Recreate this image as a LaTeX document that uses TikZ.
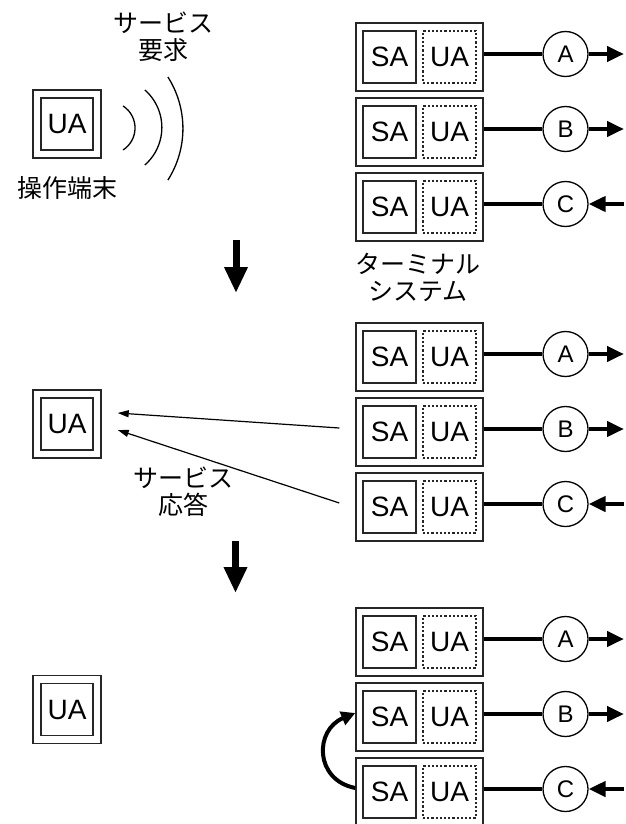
\documentclass[tikz,border=0pt]{standalone}
\usepackage{fontspec}
\setmainfont{Liberation Sans}
\newfontfamily\jp{Noto Sans CJK JP}
\usetikzlibrary{arrows.meta}
\begin{document}
\begin{tikzpicture}[x=1pt,y=-1pt,
  outerbox/.style={draw=black!85, line width=1.4pt, inner sep=0pt, minimum width=127pt, minimum height=68pt},
  sabox/.style={draw=black!85, line width=1.4pt, inner sep=0pt, minimum width=53pt, minimum height=52pt, font=\fontsize{28}{28}\selectfont},
  uabox/.style={draw=black!85, line width=1.2pt, dash pattern=on 2.2pt off 2pt, inner sep=0pt, minimum width=53pt, minimum height=52pt, font=\fontsize{28}{28}\selectfont},
  termouter/.style={draw=black!85, line width=1.4pt, inner sep=0pt, minimum size=68pt},
  terminner/.style={draw=black!85, line width=1.4pt, inner sep=0pt, minimum size=52pt, font=\fontsize{28}{28}\selectfont},
  circ/.style={circle, draw, line width=1.3pt, minimum size=45pt, inner sep=0pt, font=\fontsize{24}{24}\selectfont},
  link/.style={line width=4.5pt},
  linkarrow/.style={line width=4.5pt, -{Triangle[length=17pt,width=15pt]}},
  jlabel/.style={font=\jp\fontsize{25}{27}\selectfont, align=center, inner sep=0pt},
  bigdown/.style={line width=7pt, -{Triangle[length=26pt,width=22pt]}},
  thinarrow/.style={line width=1.2pt, -{Triangle[length=11pt,width=7pt]}},
  wave/.style={line width=1.3pt},
  swap/.style={line width=4pt, -{Triangle[length=14pt,width=14pt]}}
]
\useasboundingbox (0,0) rectangle (625,824);

% terminal systems
\foreach \g/\t in {1/23, 2/323, 3/608}{
  \foreach \i/\l/\d in {0/A/1, 1/B/1, 2/C/0}{
    \pgfmathsetmacro{\top}{\t+75*\i}
    \node[outerbox] (b\g\l) at (419.5, \top+34) {};
    \node[sabox] (s\g\l) at (389.5, \top+34) {SA};
    \node[uabox] (u\g\l) at (449.5, \top+34) {UA};
    \node[circ] (c\g\l) at (565.5, \top+31) {\raisebox{-3pt}{\l}};
    \coordinate (e\g\l) at (624, \top+31);
    \draw[link] ([yshift=3pt]b\g\l.east) -- (c\g\l.west);
    \ifnum\d=1
      \draw[linkarrow] (c\g\l.east) -- (e\g\l);
    \else
      \draw[linkarrow] (e\g\l) -- (c\g\l.east);
    \fi
  }
}

% operator terminals
\node[termouter] (t1) at (67,124) {};
\node[terminner] (t1i) at (67,124) {UA};
\node[termouter] (t2) at (67,424) {};
\node[terminner] (t2i) at (67,424) {UA};
\node[termouter] (t3) at (67,709.5) {};
\node[terminner] (t3i) at (67,709.5) {UA};

% labels
\node[jlabel] (req) at (163,37) {サービス\\要求};
\node[jlabel] (op) at (67,188) {操作端末};
\node[jlabel] (ts) at (418,277) {ターミナル\\システム};
\node[jlabel] (resp) at (183,492) {サービス\\応答};

% waves
\draw[wave] (123.1,106) arc[start angle=-57, end angle=57, radius=26.2];
\draw[wave] (144.9,90) arc[start angle=-48.7, end angle=48.7, radius=49.9];
\draw[wave] (167.9,77) arc[start angle=-32.5, end angle=32.5, radius=95.9];

% step arrows
\coordinate (d1s) at (236,240);
\coordinate (d1e) at (236,293);
\coordinate (d2s) at (235.5,541);
\coordinate (d2e) at (235.5,593);
\draw[bigdown] (d1s) -- (d1e);
\draw[bigdown] (d2s) -- (d2e);

% service responses
\draw[thinarrow] ([xshift=-16pt,yshift=4pt]b2B.west) -- ([xshift=16pt,yshift=11pt]t2.east);
\draw[thinarrow] ([xshift=-16pt,yshift=4pt]b2C.west) -- ([xshift=16pt,yshift=-6pt]t2.east);

% swap arrow
\draw[swap] ([yshift=4pt]b3C.west) .. controls +(-41,-8) and +(-41,17) .. ([yshift=4pt]b3B.west);
\end{tikzpicture}
\end{document}
